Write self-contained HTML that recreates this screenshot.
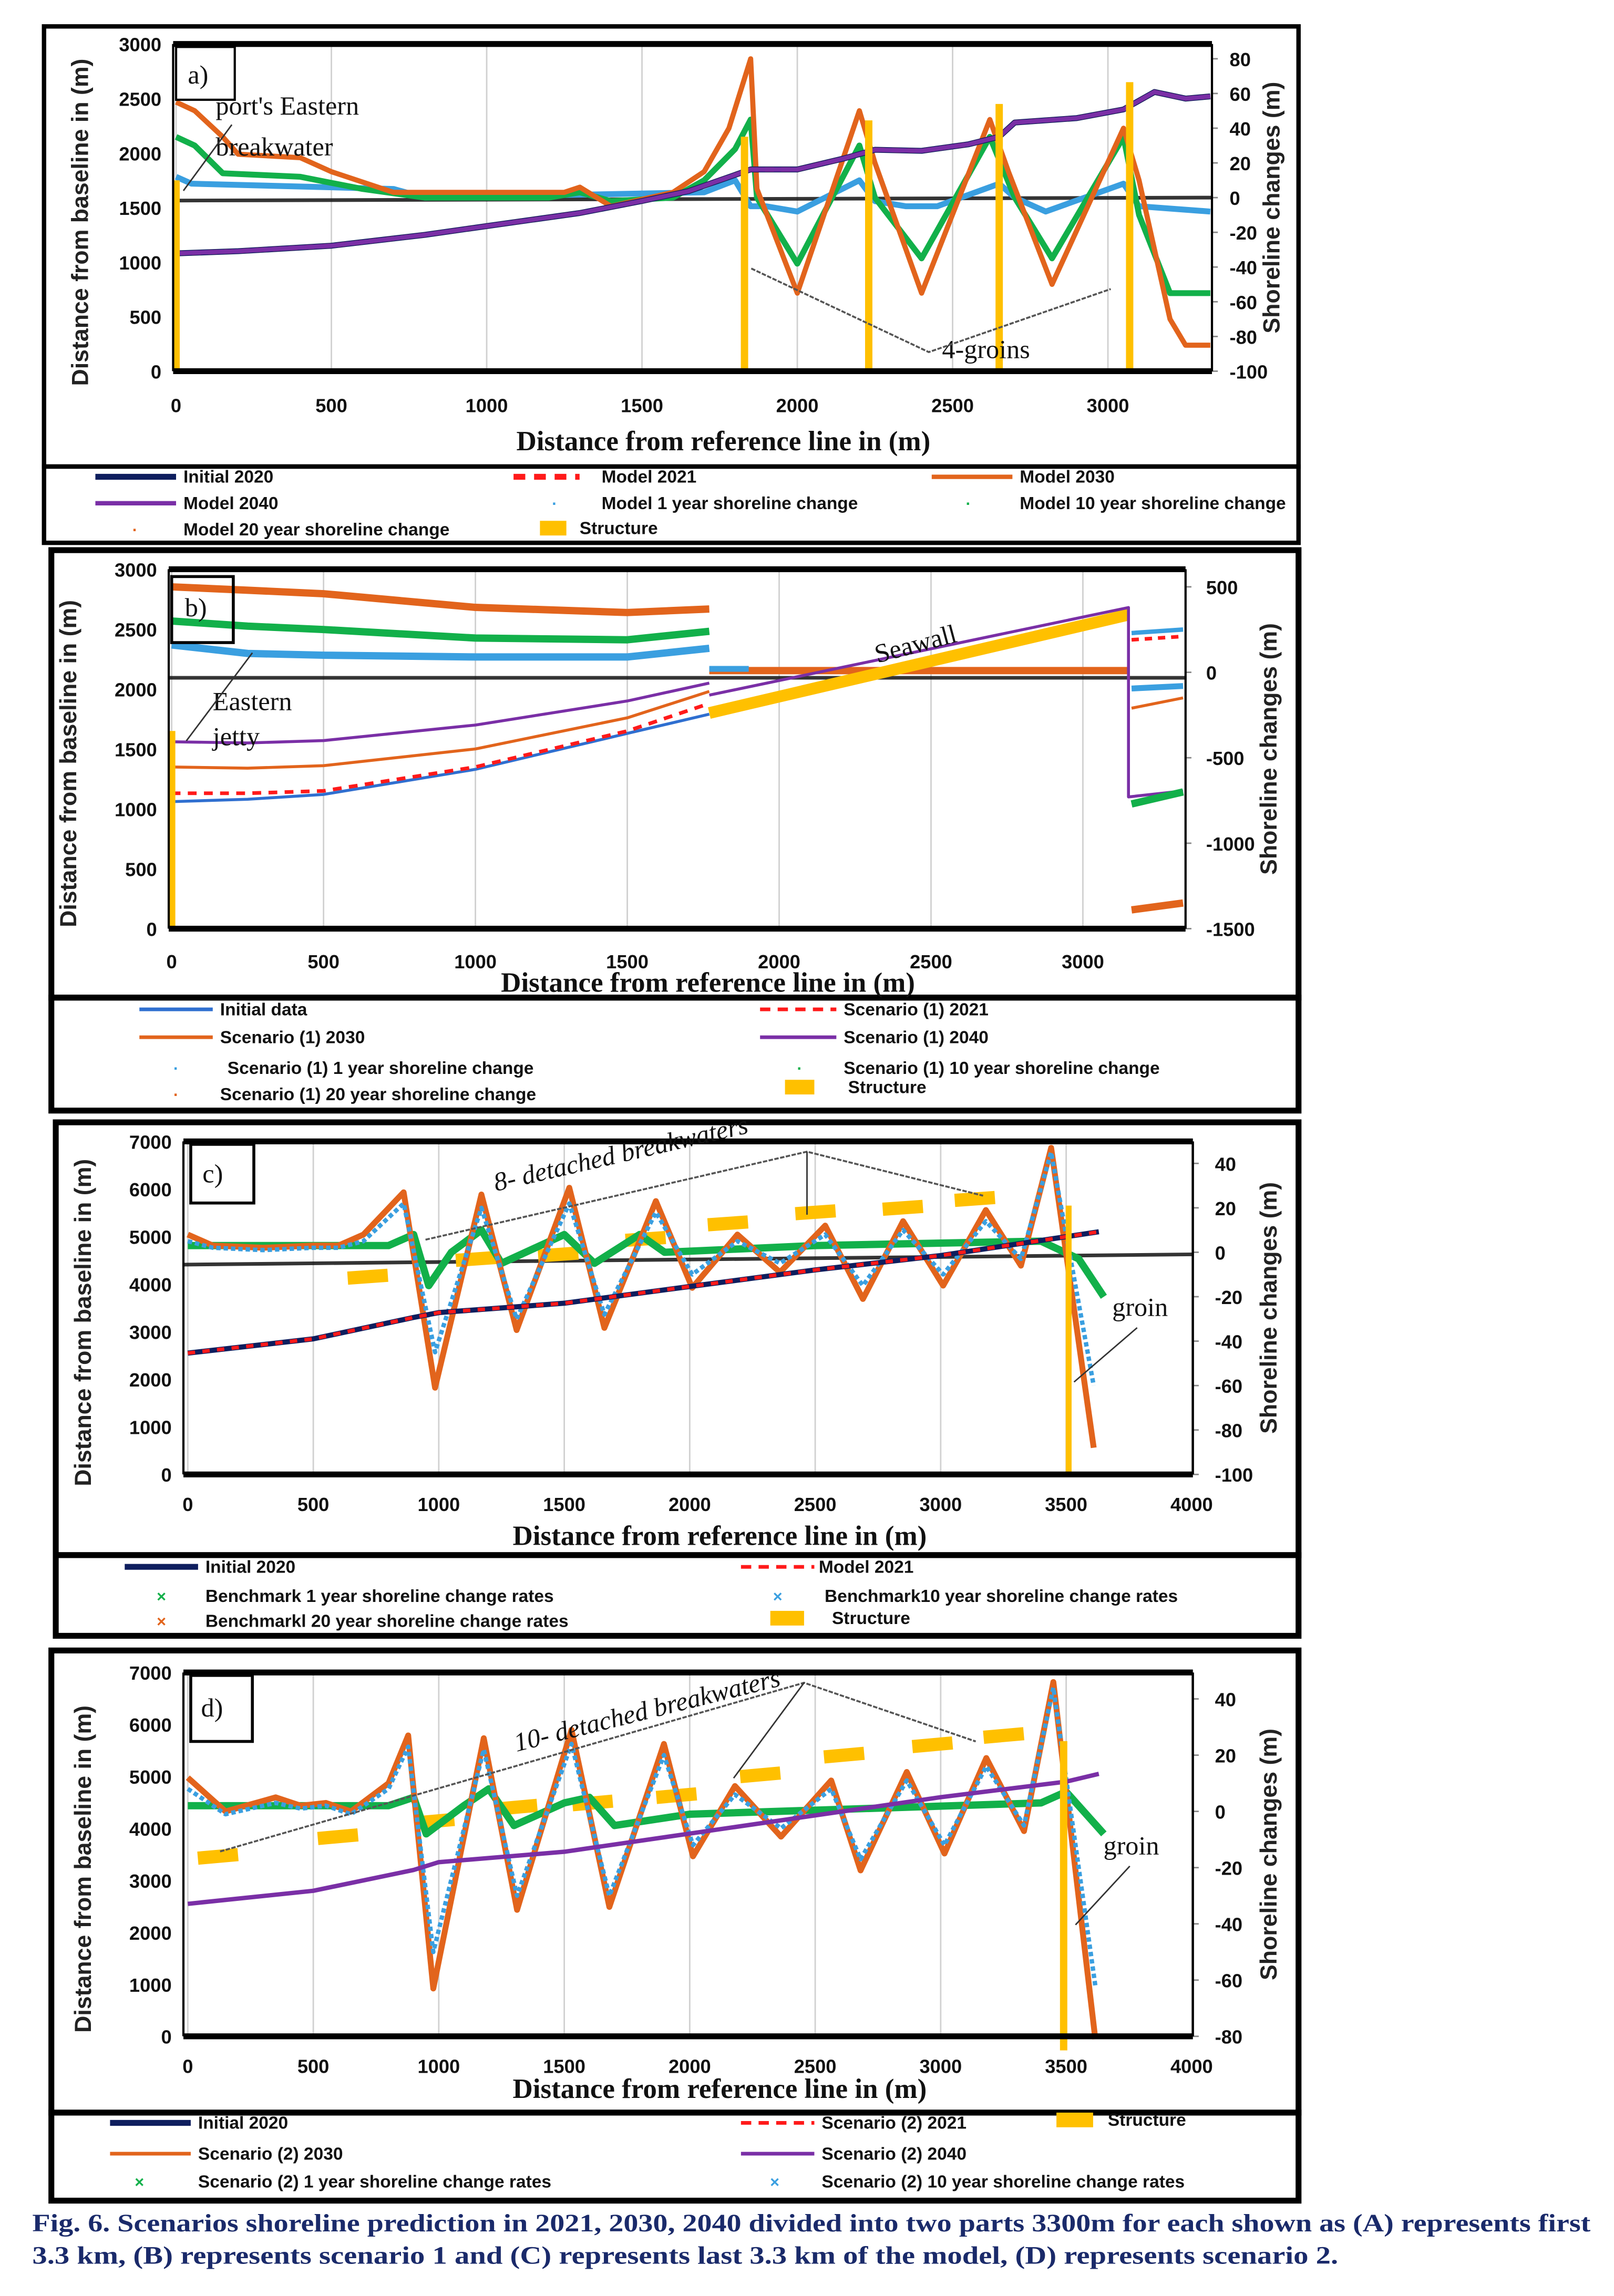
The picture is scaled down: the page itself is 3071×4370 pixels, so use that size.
<!DOCTYPE html>
<html><head><meta charset="utf-8"><style>
html,body{margin:0;padding:0;background:#fff;}
svg{display:block;}
.tk{font-family:"Liberation Sans Narrow","Liberation Sans",sans-serif;font-weight:bold;font-size:13px;fill:#111;}
.ttl{font-family:"Liberation Serif",serif;font-weight:bold;font-size:19px;fill:#111;}
.yt{font-family:"Liberation Sans",sans-serif;font-weight:bold;font-size:16px;fill:#222;}
.lg{font-family:"Liberation Sans Narrow","Liberation Sans",sans-serif;font-weight:bold;font-size:12px;fill:#111;}
.ann{font-family:"Liberation Serif",serif;font-size:18px;fill:#111;}
.cap{font-family:"Liberation Serif",serif;font-weight:bold;font-size:17px;fill:#1a2a6a;}
</style></head><body>
<svg id="fig" xmlns="http://www.w3.org/2000/svg" width="3071" height="4370" viewBox="0 0 1100 1565" preserveAspectRatio="none">
<g id="static">
<!-- panel boxes -->
<rect x="30" y="18" width="855" height="300" fill="none" stroke="#000" stroke-width="3"/>
<rect x="30" y="318" width="855" height="52" fill="none" stroke="#000" stroke-width="3"/>
<rect x="35" y="375" width="850" height="305" fill="none" stroke="#000" stroke-width="4"/>
<rect x="35" y="680" width="850" height="77" fill="none" stroke="#000" stroke-width="4"/>
<rect x="38" y="765" width="847" height="295" fill="none" stroke="#000" stroke-width="4"/>
<rect x="38" y="1060" width="847" height="55" fill="none" stroke="#000" stroke-width="4"/>
<rect x="35" y="1125" width="850" height="315" fill="none" stroke="#000" stroke-width="4"/>
<rect x="35" y="1440" width="850" height="60" fill="none" stroke="#000" stroke-width="4"/>
</g>
<g id="charts"></g>
<g id="over">
<!-- panel a annotations -->
<rect x="120" y="32" width="40" height="36" fill="#fff" stroke="#000" stroke-width="1.5"/>
<text class="ann" x="128" y="57" font-size="20">a)</text>
<text class="ann" x="147" y="78">port's Eastern</text>
<text class="ann" x="147" y="106">breakwater</text>
<line x1="158" y1="85" x2="125" y2="130" stroke="#333" stroke-width="1"/>
<text class="ann" x="642" y="244">4-groins</text>
<polyline points="512,183 633,240 757,197" fill="none" stroke="#555" stroke-width="1.3" stroke-dasharray="3 1"/>
<!-- panel b -->
<rect x="117" y="393" width="42" height="45" fill="none" stroke="#000" stroke-width="2"/>
<text class="ann" x="126" y="420" font-size="20">b)</text>
<text class="ann" x="145" y="484" font-size="16" font-family="Liberation Sans Narrow">Eastern</text>
<text class="ann" x="145" y="508" font-size="16" font-family="Liberation Sans Narrow">jetty</text>
<line x1="172" y1="445" x2="127" y2="505" stroke="#333" stroke-width="1"/>
<text class="ann" x="598" y="452" font-size="16" font-family="Liberation Sans Narrow" transform="rotate(-15 598 452)">Seawall</text>
<!-- panel c -->
<rect x="130" y="780" width="43" height="40" fill="#fff" stroke="#000" stroke-width="2"/>
<text class="ann" x="138" y="806" font-size="20">c)</text>
<text class="ann" x="338" y="812" font-size="12" font-style="italic" transform="rotate(-13 338 812)">8- detached breakwaters</text>
<polyline points="290,845 550,785 670,815" fill="none" stroke="#555" stroke-width="1.3" stroke-dasharray="3 1"/>
<line x1="550" y1="785" x2="550" y2="828" stroke="#333" stroke-width="1"/>
<text class="ann" x="758" y="897" font-size="15">groin</text>
<line x1="775" y1="905" x2="732" y2="942" stroke="#333" stroke-width="1"/>
<!-- panel d -->
<rect x="130" y="1142" width="42" height="45" fill="#fff" stroke="#000" stroke-width="2"/>
<text class="ann" x="137" y="1170" font-size="20">d)</text>
<text class="ann" x="352" y="1194" font-size="12" font-style="italic" transform="rotate(-14 352 1194)">10- detached breakwaters</text>
<polyline points="150,1262 548,1147 665,1187" fill="none" stroke="#555" stroke-width="1.3" stroke-dasharray="3 1"/>
<line x1="548" y1="1147" x2="500" y2="1212" stroke="#333" stroke-width="1"/>
<text class="ann" x="752" y="1264" font-size="15">groin</text>
<line x1="770" y1="1272" x2="733" y2="1312" stroke="#333" stroke-width="1"/>
<!-- caption -->
<text class="cap" x="22" y="1521" textLength="1062" lengthAdjust="spacingAndGlyphs">Fig. 6. Scenarios shoreline prediction in 2021, 2030, 2040 divided into two parts 3300m for each shown as (A) represents first</text>
<text class="cap" x="22" y="1543" textLength="890" lengthAdjust="spacingAndGlyphs">3.3 km, (B) represents scenario 1 and (C) represents last 3.3 km of the model, (D) represents scenario 2.</text>
</g>
</svg>
<script>
// ---------- Panel a data ----------
const aPosX = [0,200,500,800,1000,1300,1500,1650,1800,1850,2000,2150,2250,2400,2550,2650,2700,2900,3050,3150,3250,3330];
const aPosY = [1080,1100,1150,1250,1330,1450,1560,1650,1800,1850,1850,1950,2030,2020,2080,2150,2280,2320,2400,2560,2500,2520];
const a20X = [0,60,150,200,400,500,700,1000,1250,1300,1400,1600,1700,1780,1850,1870,2000,2200,2250,2400,2620,2680,2820,3050,3100,3200,3250,3330];
const a20Y = [55,50,35,25,23,15,3,3,3,6,-5,3,15,40,80,5,-55,50,20,-55,45,15,-50,40,10,-70,-85,-85];
const a10X = [0,60,150,400,600,800,1200,1300,1400,1600,1700,1800,1850,1870,2000,2200,2250,2400,2620,2700,2820,3050,3100,3200,3330];
const a10Y = [35,30,14,12,5,0,0,3,-2,0,10,28,45,0,-38,30,0,-35,35,0,-35,35,-10,-55,-55];
const a1X = [0,50,700,800,1700,1800,1850,1900,2000,2200,2250,2350,2450,2650,2700,2800,3050,3100,3330];
const a1Y = [12,8,5,0,3,10,-5,-5,-8,10,-2,-5,-5,8,0,-8,8,-5,-8];
const aGroinX = [0,1830,2230,2650,3070];
const aGroinTop = [1750,2150,2300,2450,2650];

// ---------- Panel b data ----------
const bUpX = [0,250,500,1000,1500,1770];
const b20Y = [500,480,460,380,350,370];
const b10Y = [300,270,250,200,190,240];
const b1Y = [160,110,100,90,90,140];
const bLowX = [0,250,500,1000,1500,1770];
const bInitY = [1060,1080,1120,1330,1630,1790];
const b2021Y = [1130,1130,1150,1350,1650,1880];
const b2030Y = [1350,1340,1360,1500,1760,1980];
const b2040Y = [1560,1550,1570,1700,1900,2050];
const bWallX = [1770,3150];
const bWallY = [1800,2620];
const bTailX = [3160,3330];
const bTailBlueHi = [230,250];
const bTailRed = [190,210];
const bTailBlueLo = [-95,-80];
const bTailOrange = [-210,-150];
const bTailGreen = [-770,-700];
const bTailOrangeLo = [-1390,-1350];

// ---------- Panel c data ----------
const cPosX = [0,500,900,1000,1500,2000,2500,3000,3630];
const cPosY = [2550,2850,3300,3400,3600,3950,4300,4600,5100];
const c20X = [0,100,300,500,600,700,860,985,1170,1310,1520,1660,1865,2010,2190,2360,2540,2690,2850,3010,3180,3320,3440,3610];
const c20Y = [8,3,2,3,3,8,27,-61,26,-35,29,-34,23,-16,8,-9,12,-21,14,-15,19,-6,47,-88];
const c10Y = [5,2,1,2,2,5,22,-45,20,-30,22,-28,18,-10,5,-5,8,-15,10,-10,14,-3,45,-60];
const c1X = [0,800,900,960,1050,1170,1250,1500,1620,1800,1900,2500,3400,3550,3650];
const c1Y = [3,3,8,-15,0,10,-5,8,-5,8,0,3,5,-3,-20];
const cBwX = [717,1148,1476,1824,2152,2501,2849,3136];
const cBwY = [-11,-3,-1,6,13,18,20,24];

// ---------- Panel d data ----------
const dPosX = [0,500,900,1000,1500,2000,2500,3000,3500,3630];
const dPosY = [2550,2800,3200,3350,3550,3900,4250,4600,4900,5050];
const d30X = [0,150,350,450,550,650,800,878,978,1179,1312,1529,1680,1897,2013,2180,2364,2564,2681,2865,3015,3182,3332,3449,3616];
const d30Y = [12,0,5,2,3,0,10,27,-63,26,-35,29,-34,24,-16,9,-9,11,-21,14,-15,19,-7,46,-81];
const d10Y = [8,-1,3,1,2,-1,8,23,-50,22,-30,24,-30,20,-12,6,-6,8,-17,11,-12,16,-5,44,-62];
const d1X = [0,800,900,950,1100,1200,1300,1500,1600,1700,2000,3400,3500,3600,3650];
const d1Y = [2,2,5,-8,2,8,-5,3,5,-5,-1,3,7,-3,-8];
const dBwX = [120,598,982,1312,1613,1947,2281,2615,2967,3251];
const dBwY = [-16,-9,-3.5,1.5,3,5.6,13,20,23.7,27];

// ---------- ticks ----------
const aXTicks = [0,500,1000,1500,2000,2500,3000];
const aLTicks = [0,500,1000,1500,2000,2500,3000];
const aRTicks = [-100,-80,-60,-40,-20,0,20,40,60,80];
const bRTicks = [-1500,-1000,-500,0,500];
const cXTicks = [0,500,1000,1500,2000,2500,3000,3500,4000];
const cLTicks = [0,1000,2000,3000,4000,5000,6000,7000];
const cRTicks = [-100,-80,-60,-40,-20,0,20,40];
const dRTicks = [-80,-60,-40,-20,0,20,40];

const NS = "http://www.w3.org/2000/svg";
const root = document.getElementById('charts');
function mk(tag, attrs, parent){const e=document.createElementNS(NS,tag);for(const k in attrs)e.setAttribute(k,attrs[k]);(parent||root).appendChild(e);return e;}

const P = {
 a:{px0:120,px1:826,top:30,bot:253,xmin:0,xmax:3335,lmin:0,lmax:3000,rmin:-100,rmax:88.5,fl:118},
 b:{px0:117,px1:808,top:388,bot:633,xmin:0,xmax:3338,lmin:0,lmax:3000,rmin:-1500,rmax:603,fl:115},
 c:{px0:128,px1:813,top:778,bot:1005,xmin:0,xmax:4005,lmin:0,lmax:7000,rmin:-100,rmax:49.9,fl:125},
 d:{px0:128,px1:813,top:1140,bot:1388,xmin:0,xmax:4005,lmin:0,lmax:7000,rmin:-80,rmax:49.4,fl:125}
};
function X(p,v){return p.px0+(v-p.xmin)/(p.xmax-p.xmin)*(p.px1-p.px0);}
function YL(p,v){return p.bot-(v-p.lmin)/(p.lmax-p.lmin)*(p.bot-p.top);}
function YR(p,v){return p.bot-(v-p.rmin)/(p.rmax-p.rmin)*(p.bot-p.top);}
function pts(p,xs,ys,side){return xs.map((x,i)=>X(p,x).toFixed(1)+','+(side==='r'?YR(p,ys[i]):YL(p,ys[i])).toFixed(1)).join(' ');}
function series(p,xs,ys,side,style,name){
 const e=mk('polyline',Object.assign({points:pts(p,xs,ys,side),fill:'none','stroke-linejoin':'round'},style));
 
 
 return e;
}
function frame(p,key,xt,lt,rt,xLabY,xTitleY,yTitleX,rTitleX,rLabX){
 for(const t of xt){const l=mk('line',{x1:X(p,t),x2:X(p,t),y1:p.top,y2:p.bot,stroke:'#d0d0d0','stroke-width':1});
  
  
  const tx=mk('text',{x:X(p,t),y:xLabY,'text-anchor':'middle',class:'tk'});tx.textContent=t;
  
  }
 for(const t of lt){const tx=mk('text',{x:p.fl-8,y:YL(p,t)+5,'text-anchor':'end',class:'tk'});tx.textContent=t;
  
  }
 for(const t of rt){const tx=mk('text',{x:rLabX,y:YR(p,t)+5,'text-anchor':'start',class:'tk'});tx.textContent=t;
  
  
  const tk=mk('line',{x1:p.px1,x2:p.px1+4,y1:YR(p,t),y2:YR(p,t),stroke:'#888','stroke-width':1});
  
  }
 const xtl=mk('text',{x:(p.px0+p.px1)/2+20,y:xTitleY,'text-anchor':'middle',class:'ttl'});xtl.textContent='Distance from reference line in (m)';
 
 
 const cy=(p.top+p.bot)/2+10;
 const yl=mk('text',{x:yTitleX,y:cy,'text-anchor':'middle',class:'yt',transform:`rotate(-90 ${yTitleX} ${cy})`});yl.textContent='Distance from baseline in (m)';
 
 
 const cy2=(p.top+p.bot)/2;
 const yr=mk('text',{x:rTitleX,y:cy2,'text-anchor':'middle',class:'yt',transform:`rotate(-90 ${rTitleX} ${cy2})`});yr.textContent='Shoreline changes (m)';
 
 
}
function border(p,key){
 const g=mk('g',{});
 
 
 mk('line',{x1:p.fl,x2:p.px1,y1:p.top,y2:p.top,stroke:'#000','stroke-width':4},g);
 mk('line',{x1:p.fl,x2:p.px1,y1:p.bot,y2:p.bot,stroke:'#000','stroke-width':4},g);
 mk('line',{x1:p.fl,x2:p.fl,y1:p.top,y2:p.bot,stroke:'#000','stroke-width':1.5},g);
 mk('line',{x1:p.px1,x2:p.px1,y1:p.top,y2:p.bot,stroke:'#000','stroke-width':1.5},g);
}
function hline(p,y1,y2,name){const l=mk('line',{x1:p.fl,x2:p.px1,y1:y1,y2:y2,stroke:'#111','stroke-width':2.5,opacity:0.85});
 
 }
function bar(p,x,v0,v1,side,w,name){const y0=side==='r'?YR(p,v0):YL(p,v0),y1=side==='r'?YR(p,v1):YL(p,v1);
 const r=mk('line',{x1:X(p,x),x2:X(p,x),y1:y0,y2:y1,stroke:'#ffc000','stroke-width':w});
 
 }
function dash(p,xc,v,len,name){const x0=xc-len/2,x1=xc+len/2;const slope=0.004;
 const r=mk('line',{x1:X(p,x0),x2:X(p,x1),y1:YR(p,v-len*slope),y2:YR(p,v+len*slope),stroke:'#ffc000','stroke-width':9});
 
 }
function legLine(x1,x2,y,style,label,tx,name){const l=mk('line',Object.assign({x1:x1,x2:x2,y1:y,y2:y},style));
 
 
 const t=mk('text',{x:tx,y:y+4,class:'lg'});t.textContent=label;
 
 }
function legMark(x,y,color,sym,label,tx,name){const m=mk('text',{x:x,y:y+4,'text-anchor':'middle',fill:color,'font-size':11,'font-weight':'bold','font-family':'Liberation Sans'});m.textContent=sym;
 
 
 const t=mk('text',{x:tx,y:y+4,class:'lg'});t.textContent=label;
 
 }
function legRect(x,y,w,label,tx,name){const r=mk('rect',{x:x,y:y-5,width:w,height:10,fill:'#ffc000'});
 
 
 const t=mk('text',{x:tx,y:y+4,class:'lg'});t.textContent=label;
 
 }

const OR='#e2641c',GR='#12b04a',BL='#3a9fe0',PU='#7a2fa6',NV='#0e1e5e',RD='#ff1a1a';

// ===== Panel a =====
(function(){const p=P.a;
 frame(p,'panel-a',aXTicks,aLTicks,aRTicks,281,307,60,872,838);
 hline(p,YR(p,0)+2,YR(p,0),'panel-a-zero-line');
 series(p,a1X,a1Y,'r',{stroke:BL,'stroke-width':4},'panel-a-1yr-change');
 series(p,a10X,a10Y,'r',{stroke:GR,'stroke-width':4},'panel-a-10yr-change');
 series(p,a20X,a20Y,'r',{stroke:OR,'stroke-width':3.5},'panel-a-20yr-change');
 series(p,aPosX,aPosY,'l',{stroke:NV,'stroke-width':4},'panel-a-initial-2020');
 series(p,aPosX,aPosY,'l',{stroke:RD,'stroke-width':3,'stroke-dasharray':'6 5'},'panel-a-model-2021');
 series(p,aPosX,aPosY,'l',{stroke:PU,'stroke-width':3},'panel-a-model-2040');
 aGroinX.forEach((x,i)=>bar(p,x,0,aGroinTop[i],'l',5,'panel-a-groin-'+i));
 border(p,'panel-a');
 legLine(65,120,325,{stroke:NV,'stroke-width':4},'Initial 2020',125,'legend-a-initial');
 legLine(350,395,325,{stroke:RD,'stroke-width':4,'stroke-dasharray':'8 6'},'Model 2021',410,'legend-a-2021');
 legLine(635,690,325,{stroke:OR,'stroke-width':3},'Model 2030',695,'legend-a-2030');
 legLine(65,120,343,{stroke:PU,'stroke-width':3},'Model 2040',125,'legend-a-2040');
 legMark(378,343,BL,'\u00b7','Model 1 year shoreline change',410,'legend-a-1yr');
 legMark(660,343,GR,'\u00b7','Model 10 year shoreline change',695,'legend-a-10yr');
 legMark(92,361,OR,'\u00b7','Model 20 year shoreline change',125,'legend-a-20yr');
 legRect(368,360,18,'Structure',395,'legend-a-structure');
})();

// ===== Panel b =====
(function(){const p=P.b;
 frame(p,'panel-b',aXTicks,aLTicks,bRTicks,660,676,52,870,822);
 hline(p,462,462,'panel-b-zero-line');
 series(p,bUpX,b20Y,'r',{stroke:OR,'stroke-width':5},'panel-b-20yr-change');
 series(p,bUpX,b10Y,'r',{stroke:GR,'stroke-width':5},'panel-b-10yr-change');
 series(p,bUpX,b1Y,'r',{stroke:BL,'stroke-width':5},'panel-b-1yr-change');
 series(p,[1770,3150],[10,10],'r',{stroke:OR,'stroke-width':5},'panel-b-20yr-flat');
 series(p,[1770,1900],[20,20],'r',{stroke:BL,'stroke-width':4},'panel-b-1yr-flat');
 series(p,bWallX,bWallY,'l',{stroke:'#ffc000','stroke-width':8},'panel-b-seawall');
 series(p,bLowX,bInitY,'l',{stroke:'#2f6fd0','stroke-width':2},'panel-b-initial');
 series(p,bLowX,b2021Y,'l',{stroke:RD,'stroke-width':2.5,'stroke-dasharray':'6 5'},'panel-b-2021');
 series(p,bLowX,b2030Y,'l',{stroke:OR,'stroke-width':2},'panel-b-2030');
 series(p,bLowX,b2040Y,'l',{stroke:PU,'stroke-width':2},'panel-b-2040');
 series(p,[1770,3150,3150,3330],[1950,2680,1100,1150],'l',{stroke:PU,'stroke-width':2},'panel-b-2040-seawall');
 series(p,bTailX,bTailBlueHi,'r',{stroke:BL,'stroke-width':3},'panel-b-tail-blue');
 series(p,bTailX,bTailRed,'r',{stroke:RD,'stroke-width':2.5,'stroke-dasharray':'5 4'},'panel-b-tail-red');
 series(p,bTailX,bTailBlueLo,'r',{stroke:BL,'stroke-width':4},'panel-b-tail-1yr');
 series(p,bTailX,bTailOrange,'r',{stroke:OR,'stroke-width':2},'panel-b-tail-2030');
 series(p,bTailX,bTailGreen,'r',{stroke:GR,'stroke-width':5},'panel-b-tail-10yr');
 series(p,bTailX,bTailOrangeLo,'r',{stroke:OR,'stroke-width':5},'panel-b-tail-20yr');
 bar(p,0,0,1650,'l',5,'panel-b-jetty');
 border(p,'panel-b');
 legLine(95,145,688,{stroke:'#2f6fd0','stroke-width':2.5},'Initial data',150,'legend-b-initial');
 legLine(518,570,688,{stroke:RD,'stroke-width':2.5,'stroke-dasharray':'7 5'},'Scenario (1) 2021',575,'legend-b-2021');
 legLine(95,145,707,{stroke:OR,'stroke-width':2.5},'Scenario (1) 2030',150,'legend-b-2030');
 legLine(518,570,707,{stroke:PU,'stroke-width':2.5},'Scenario (1) 2040',575,'legend-b-2040');
 legMark(120,728,BL,'\u00b7','Scenario (1) 1 year shoreline change',155,'legend-b-1yr');
 legMark(545,728,GR,'\u00b7','Scenario (1) 10 year shoreline change',575,'legend-b-10yr');
 legMark(120,746,OR,'\u00b7','Scenario (1) 20 year shoreline change',150,'legend-b-20yr');
 legRect(535,741,20,'Structure',578,'legend-b-structure');
})();

// ===== Panel c =====
(function(){const p=P.c;
 frame(p,'panel-c',cXTicks,cLTicks,cRTicks,1030,1053,62,870,828);
 hline(p,862,855,'panel-c-zero-line');
 cBwX.forEach((x,i)=>dash(p,x,cBwY[i],160,'panel-c-breakwater-'+i));
 series(p,c1X,c1Y,'r',{stroke:GR,'stroke-width':5},'panel-c-1yr-rate');
 series(p,c20X,c20Y,'r',{stroke:OR,'stroke-width':4},'panel-c-20yr-rate');
 series(p,c20X,c10Y,'r',{stroke:BL,'stroke-width':3,'stroke-dasharray':'3 2'},'panel-c-10yr-rate');
 series(p,cPosX,cPosY,'l',{stroke:NV,'stroke-width':3.5},'panel-c-initial-2020');
 series(p,cPosX,cPosY,'l',{stroke:RD,'stroke-width':2.5,'stroke-dasharray':'5 5'},'panel-c-model-2021');
 bar(p,3510,0,5650,'l',4,'panel-c-groin');
 border(p,'panel-c');
 legLine(85,135,1068,{stroke:NV,'stroke-width':4},'Initial 2020',140,'legend-c-initial');
 legLine(505,555,1068,{stroke:RD,'stroke-width':2.5,'stroke-dasharray':'7 5'},'Model 2021',558,'legend-c-2021');
 legMark(110,1088,GR,'\u00d7','Benchmark 1 year shoreline change rates',140,'legend-c-1yr');
 legMark(530,1088,BL,'\u00d7','Benchmark10 year shoreline change rates',562,'legend-c-10yr');
 legMark(110,1105,OR,'\u00d7','Benchmarkl 20 year shoreline change rates',140,'legend-c-20yr');
 legRect(525,1103,23,'Structure',567,'legend-c-structure');
})();

// ===== Panel d =====
(function(){const p=P.d;
 frame(p,'panel-d',cXTicks,cLTicks,dRTicks,1413,1430,62,870,828);
 dBwX.forEach((x,i)=>dash(p,x,dBwY[i],160,'panel-d-breakwater-'+i));
 series(p,d1X,d1Y,'r',{stroke:GR,'stroke-width':5},'panel-d-1yr-rate');
 series(p,d30X,d30Y,'r',{stroke:OR,'stroke-width':4},'panel-d-2030');
 series(p,d30X,d10Y,'r',{stroke:BL,'stroke-width':3,'stroke-dasharray':'3 2'},'panel-d-10yr-rate');
 series(p,dPosX,dPosY,'l',{stroke:PU,'stroke-width':3},'panel-d-2040');
 bar(p,3490,-85,25,'r',5,'panel-d-groin');
 border(p,'panel-d');
 legLine(75,130,1447,{stroke:NV,'stroke-width':4},'Initial 2020',135,'legend-d-initial');
 legLine(505,555,1447,{stroke:RD,'stroke-width':2.5,'stroke-dasharray':'7 5'},'Scenario (2) 2021',560,'legend-d-2021');
 legRect(720,1445,25,'Structure',755,'legend-d-structure');
 legLine(75,130,1468,{stroke:OR,'stroke-width':2.5},'Scenario (2) 2030',135,'legend-d-2030');
 legLine(505,555,1468,{stroke:PU,'stroke-width':2.5},'Scenario (2) 2040',560,'legend-d-2040');
 legMark(95,1487,GR,'\u00d7','Scenario (2) 1 year shoreline change rates',135,'legend-d-1yr');
 legMark(528,1487,BL,'\u00d7','Scenario (2) 10 year shoreline change rates',560,'legend-d-10yr');
})();
// keep annotations on top
document.getElementById('fig').appendChild(document.getElementById('over'));
</script>
</body></html>
